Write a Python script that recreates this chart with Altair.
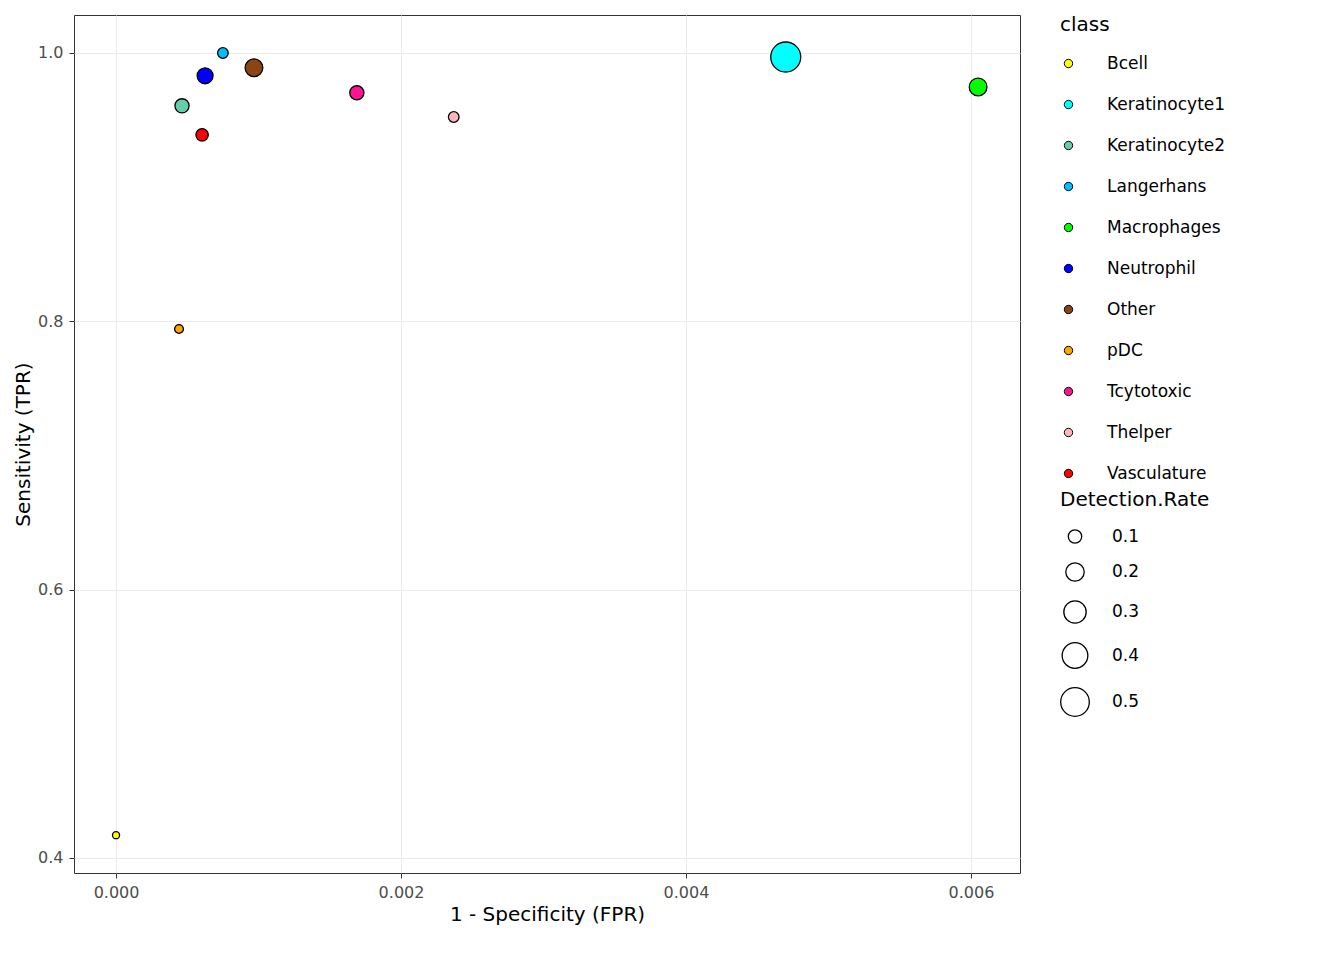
import altair as alt
import pandas as pd

classes = ["Bcell","Keratinocyte1","Keratinocyte2","Langerhans","Macrophages","Neutrophil","Other","pDC","Tcytotoxic","Thelper","Vasculature"]
fpr = [0.0, 0.0047, 0.000463, 0.00075, 0.00605, 0.000625, 0.000968, 0.000442, 0.00169, 0.00237, 0.000604]
tpr = [0.417, 0.997, 0.9606, 1.0, 0.9747, 0.983, 0.989, 0.7943, 0.9703, 0.9523, 0.939]
rate = [0.019, 0.55, 0.113, 0.058, 0.184, 0.146, 0.184, 0.036, 0.113, 0.058, 0.084]
colors = ["#FFFF00","#00FFFF","#66CDAA","#00BFFF","#00FF00","#0000FF","#8B4513","#FFA500","#FF1493","#FFB6C1","#FF0000"]

df = pd.DataFrame({"cls": classes, "fpr": fpr, "tpr": tpr, "rate": rate})
font = "DejaVu Sans"

chart = alt.Chart(df).mark_circle(opacity=1, stroke="black", strokeWidth=1.3).encode(
    x=alt.X("fpr:Q", title="1 - Specificity (FPR)",
            scale=alt.Scale(domain=[-0.000295, 0.006344], nice=False, zero=False),
            axis=alt.Axis(values=[0, 0.002, 0.004, 0.006], format=".3f")),
    y=alt.Y("tpr:Q", title="Sensitivity (TPR)",
            scale=alt.Scale(domain=[0.3888, 1.0283], nice=False, zero=False),
            axis=alt.Axis(values=[0.4, 0.6, 0.8, 1.0], format=".1f")),
    color=alt.Color("cls:N", scale=alt.Scale(domain=classes, range=colors),
                    legend=alt.Legend(title="class", symbolSize=70, symbolStrokeColor="black",
                                      symbolStrokeWidth=1, labelFontSize=17, titleFontSize=20,
                                      rowPadding=23, symbolType="circle", labelOffset=30,
                                      titlePadding=20)),
    size=alt.Size("rate:Q", title="Detection.Rate",
                  scale=alt.Scale(domain=[0, 0.55], range=[20, 900], zero=False),
                  legend=alt.Legend(values=[0.1, 0.2, 0.3, 0.4, 0.5], symbolFillColor="white",
                                    symbolStrokeColor="black", symbolStrokeWidth=1.3, symbolOpacity=1,
                                    labelFontSize=17, titleFontSize=20, rowPadding=14,
                                    labelOffset=22, titlePadding=18)),
    order=alt.Order("rate:Q", sort="descending"),
).properties(width=946, height=858).configure(font=font, padding={"left": 5, "top": 7, "right": 5, "bottom": 5}).configure_view(
    stroke="#333333", strokeWidth=1
).configure_axis(
    grid=True, gridColor="#EBEBEB", domain=False, tickColor="#333333", tickSize=5,
    labelFontSize=16, labelColor="#4D4D4D", titleFontSize=20, titleFontWeight="normal",
    titleColor="black", labelPadding=6
).configure_legend(titleFontWeight="normal", titleColor="black", labelColor="black",
                   offset=40, titleLimit=300, padding=0)

chart.save("out.html", embed_options={"renderer": "svg", "actions": False})
